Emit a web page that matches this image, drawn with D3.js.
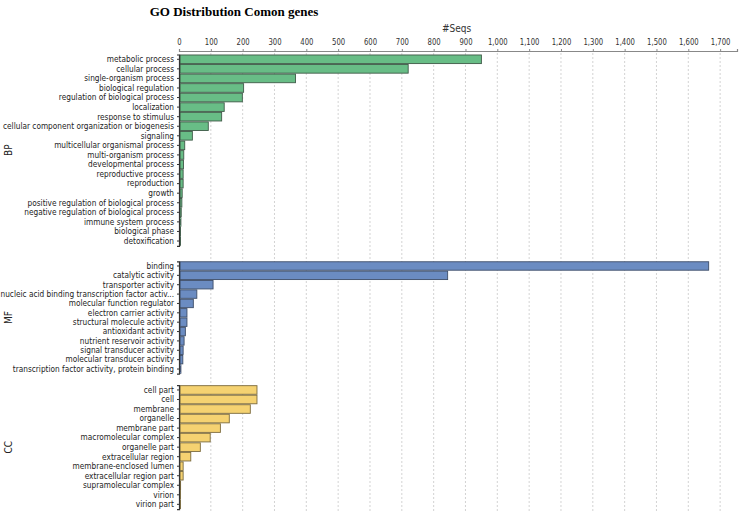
<!DOCTYPE html>
<html><head><meta charset="utf-8">
<script src="https://cdn.jsdelivr.net/npm/d3@7"></script>
<style>
body{margin:0;background:#fff;}
svg{display:block;}
</style></head>
<body>
<svg id="chart" width="743" height="516"></svg>
<script>
const title = "GO Distribution Comon genes";
const axisTitle = "#Seqs";
const xTicks = [0,100,200,300,400,500,600,700,800,900,1000,1100,1200,1300,1400,1500,1600,1700];

const bpTerms = ["metabolic process","cellular process","single-organism process","biological regulation","regulation of biological process","localization","response to stimulus","cellular component organization or biogenesis","signaling","multicellular organismal process","multi-organism process","developmental process","reproductive process","reproduction","growth","positive regulation of biological process","negative regulation of biological process","immune system process","biological phase","detoxification"];
const bpValues = [950,720,366,203,199,142,134,92,42,18,15,14,13,13,10,9,7,6,4,3];

const mfTerms = ["binding","catalytic activity","transporter activity","nucleic acid binding transcription factor activ...","molecular function regulator","electron carrier activity","structural molecule activity","antioxidant activity","nutrient reservoir activity","signal transducer activity","molecular transducer activity","transcription factor activity, protein binding"];
const mfValues = [1664,844,107,56,45,25,25,20,16,13,12,6];

const ccTerms = ["cell part","cell","membrane","organelle","membrane part","macromolecular complex","organelle part","extracellular region","membrane-enclosed lumen","extracellular region part","supramolecular complex","virion","virion part"];
const ccValues = [245,245,224,158,130,98,67,37,13,13,5,4,3];

const panels = [
  {name:"BP", terms:bpTerms, values:bpValues, fill:"#68bd86", stroke:"#3f5a48", y0:54.5, y1:245.8},
  {name:"MF", terms:mfTerms, values:mfValues, fill:"#6b8cc2", stroke:"#3d4d68", y0:261.3, y1:373.7},
  {name:"CC", terms:ccTerms, values:ccValues, fill:"#f5d271", stroke:"#7a6a3e", y0:385.2, y1:509.1}
];

const svg = d3.select("#chart");
const left = 179, right = 737, axisY = 51;
const x = d3.scaleLinear().domain([0,1753]).range([left,right]);
const font = "'DejaVu Sans Condensed','Liberation Sans',sans-serif";

svg.append("text").attr("x",234).attr("y",16).attr("text-anchor","middle")
  .attr("font-family","'Liberation Serif','Times New Roman',serif").attr("font-weight","bold")
  .attr("font-size",13).attr("fill","#000").text(title);

svg.append("text").attr("x",x(900)-9).attr("y",32).attr("text-anchor","middle")
  .attr("font-family",font).attr("font-size",10).attr("fill","#333").text(axisTitle);

// grid
svg.append("g").selectAll("line").data(xTicks.slice(1)).join("line")
  .attr("x1",d=>x(d)).attr("x2",d=>x(d)).attr("y1",axisY+2).attr("y2",512)
  .attr("stroke","#c8c8c8").attr("stroke-width",0.8).attr("stroke-dasharray","2,2");

// top axis
const xAxis = d3.axisTop(x).tickValues(xTicks).tickSize(2).tickFormat(d3.format(","));
const gx = svg.append("g").attr("transform",`translate(0,${axisY})`).call(xAxis);
gx.select(".domain").attr("stroke","#888").attr("stroke-width",1.2);
gx.selectAll(".tick line").attr("stroke","#888");
gx.selectAll(".tick text").attr("font-family",font).attr("font-size",9).attr("fill","#333").attr("dy","-0.1em")
  .each(function(){ const w=this.getComputedTextLength(); d3.select(this).attr("textLength",w*0.85).attr("lengthAdjust","spacingAndGlyphs"); });

const labelFont = 8.8;
panels.forEach(p=>{
  const y = d3.scaleBand().domain(p.terms).range([p.y0,p.y1]).paddingInner(0.1).paddingOuter(0.05);
  const g = svg.append("g");
  g.selectAll("rect").data(p.terms).join("rect")
    .attr("x",x(0)+1).attr("y",d=>y(d))
    .attr("width",(d,i)=>Math.max(0.5,x(p.values[i])-x(0)-1))
    .attr("height",y.bandwidth())
    .attr("fill",p.fill).attr("stroke",p.stroke).attr("stroke-width",0.9);
  const yAxis = d3.axisLeft(y).tickSize(2).tickPadding(3);
  const gy = g.append("g").attr("transform",`translate(${left},0)`).call(yAxis);
  gy.select(".domain").attr("stroke","#333").attr("stroke-width",1.2);
  gy.selectAll(".tick line").attr("stroke","#333");
  gy.selectAll(".tick text").attr("class","ylab").attr("font-family",font).attr("font-size",labelFont).attr("fill","#222");
  g.append("text").attr("transform",`translate(12,${(p.y0+p.y1)/2}) rotate(-90)`)
    .attr("text-anchor","middle").attr("font-family",font).attr("font-size",10).attr("fill","#222").text(p.name);
});
// condense labels to match the narrow face of the original
const labs = svg.selectAll("text.ylab");
let maxW = 0;
labs.each(function(){ if(this.textContent==="cellular component organization or biogenesis") maxW=this.getComputedTextLength(); });
const squeeze = 171/maxW;
labs.each(function(){ const w=this.getComputedTextLength(); d3.select(this).attr("textLength",w*squeeze).attr("lengthAdjust","spacingAndGlyphs"); });
</script>
</body></html>
